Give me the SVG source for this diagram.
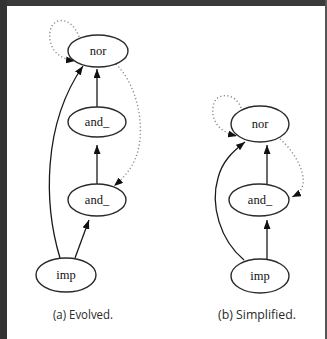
<svg xmlns="http://www.w3.org/2000/svg" width="327" height="339" viewBox="0 0 327 339">
<style>
.node ellipse{fill:#fff;stroke:#2a2a2a;stroke-width:1.4}
.node text{font-family:"Liberation Serif",serif;font-size:12.5px;fill:#111;text-anchor:middle}
.e{fill:none;stroke:#1a1a1a;stroke-width:1.3;marker-end:url(#ah)}
.d{fill:none;stroke:#8a8a8a;stroke-width:1.4;stroke-dasharray:1.2,2.4;marker-end:url(#ah)}
.cap{font-family:"Open Sans","Liberation Sans",sans-serif;font-size:12.5px;fill:#2a2a2a;text-anchor:middle}
</style>
<defs>
<marker id="ah" viewBox="0 0 9 7" refX="9" refY="3.5" markerWidth="9" markerHeight="7" markerUnits="userSpaceOnUse" orient="auto">
<path d="M0,0 L9,3.5 L0,7 z" fill="#111"/>
</marker>
</defs>
<rect x="0" y="0" width="327" height="339" fill="#fff"/>
<rect x="0" y="0" width="327" height="6" fill="#3a3a3a"/>
<rect x="0" y="0" width="7" height="339" fill="#333"/>
<rect x="325" y="0" width="2" height="339" fill="#555"/>
<g id="connectors">
<path class="e" d="M97,107 L97,69"/>
<path class="e" d="M97,184 L97,145"/>
<path class="e" d="M75,258 L89,220"/>
<path class="e" d="M60,258 C44,205 42,125 83,66"/>
<path class="d" d="M79,37 C72,16 52,16 50,32 C48,48 58,59 75,61"/>
<path class="d" d="M116,64 C136,84 144,120 139,146 C136,163 127,175 114,186"/>
<path class="e" d="M267,184 L267,145"/>
<path class="e" d="M267,260 L267,220"/>
<path class="e" d="M244,260 C220,240 210,205 218,178 C222,162 232,152 245,142"/>
<path class="d" d="M241,108 C236,93 218,92 214,103 C210,116 215,131 237,136"/>
<path class="d" d="M280,139 C293,150 305,170 303,184 C302,190 298,194 292,197"/>
</g>
<g id="a_nor" class="node"><ellipse cx="98" cy="51" rx="30" ry="16"/><text x="98" y="55">nor</text></g>
<g id="a_and1" class="node"><ellipse cx="97" cy="122" rx="29" ry="15"/><text x="97" y="126">and_</text></g>
<g id="a_and2" class="node"><ellipse cx="97" cy="200" rx="29" ry="16"/><text x="97" y="204">and_</text></g>
<g id="a_imp" class="node"><ellipse cx="66" cy="275" rx="30" ry="17"/><text x="66" y="279">imp</text></g>
<g id="b_nor" class="node"><ellipse cx="260" cy="124" rx="29" ry="18"/><text x="260" y="128">nor</text></g>
<g id="b_and" class="node"><ellipse cx="259" cy="200" rx="30" ry="16"/><text x="260" y="204">and_</text></g>
<g id="b_imp" class="node"><ellipse cx="260" cy="276" rx="29" ry="17"/><text x="260" y="280">imp</text></g>
<text class="cap" x="83" y="319" textLength="60" lengthAdjust="spacingAndGlyphs">(a) Evolved.</text>
<text class="cap" x="257" y="319" textLength="78" lengthAdjust="spacingAndGlyphs">(b) Simplified.</text>
</svg>
